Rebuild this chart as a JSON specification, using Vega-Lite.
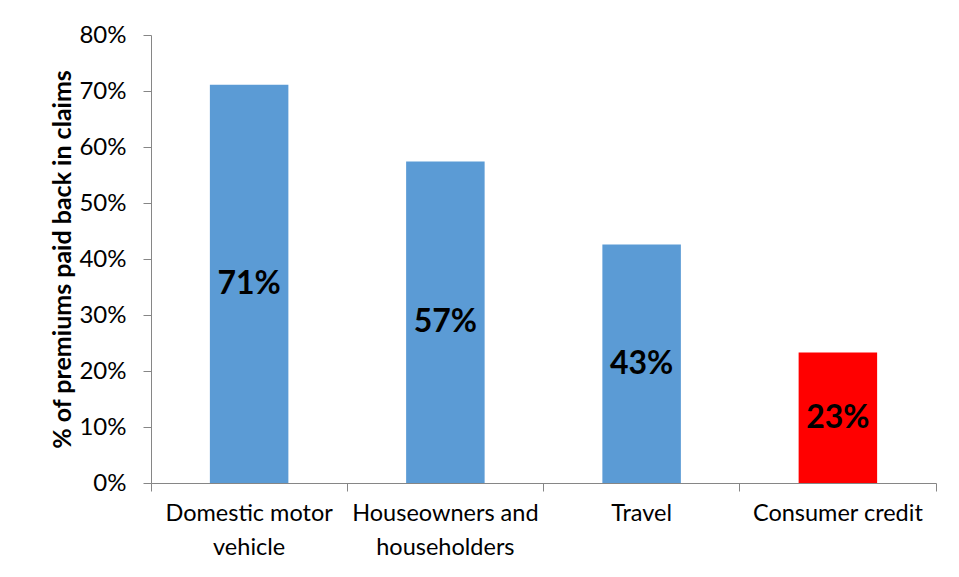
{
  "$schema": "https://vega.github.io/schema/vega-lite/v6.json",
  "width": 785,
  "height": 448,
  "autosize": {"type": "none"},
  "padding": {"left": 151, "top": 35, "right": 23, "bottom": 94},
  "background": "white",
  "config": {
    "font": "Lato",
    "view": {"stroke": null},
    "axis": {
      "domainColor": "#868686",
      "tickColor": "#868686",
      "labelColor": "#000000",
      "titleColor": "#000000",
      "labelFont": "Lato",
      "titleFont": "Lato",
      "grid": false
    }
  },
  "data": {
    "values": [
      {"category": "Domestic motor vehicle", "value": 0.711},
      {"category": "Houseowners and householders", "value": 0.574},
      {"category": "Travel", "value": 0.426},
      {"category": "Consumer credit", "value": 0.233}
    ]
  },
  "layer": [
    {
      "mark": {"type": "bar", "width": {"band": 0.4}},
      "encoding": {
        "x": {
          "field": "category",
          "type": "nominal",
          "sort": null,
          "scale": {"paddingInner": 0, "paddingOuter": 0},
          "axis": {
            "title": null,
            "labelAngle": 0,
            "labelFontSize": 23.5,
            "labelExpr": "datum.label == 'Domestic motor vehicle' ? ['Domestic motor', 'vehicle'] : datum.label == 'Houseowners and householders' ? ['Houseowners and', 'householders'] : datum.label",
            "labelLineHeight": 34,
            "labelPadding": 10,
            "labelBaseline": "top",
            "labelLimit": 400,
            "labelOverlap": false,
            "tickSize": 8,
            "bandPosition": 1,
            "tickExtra": true
          }
        },
        "y": {
          "field": "value",
          "type": "quantitative",
          "scale": {"domain": [0, 0.8], "nice": false},
          "axis": {
            "format": ".0%",
            "values": [0, 0.1, 0.2, 0.3, 0.4, 0.5, 0.6, 0.7, 0.8],
            "title": "% of premiums paid back in claims",
            "titleFontSize": 25,
            "titleFontWeight": "bold",
            "labelFontSize": 24,
            "tickSize": 8,
            "labelPadding": 17,
            "titlePadding": 3
          }
        },
        "color": {
          "field": "category",
          "type": "nominal",
          "scale": {
            "domain": ["Domestic motor vehicle", "Houseowners and householders", "Travel", "Consumer credit"],
            "range": ["#5B9BD5", "#5B9BD5", "#5B9BD5", "#FF0000"]
          },
          "legend": null
        }
      }
    },
    {
      "mark": {"type": "text", "fontSize": 32, "fontWeight": "bold", "color": "#000000", "baseline": "middle"},
      "encoding": {
        "x": {"field": "category", "type": "nominal", "sort": null},
        "y": {"field": "value", "type": "quantitative", "scale": {"domain": [0, 1.6], "nice": false}, "axis": null},
        "text": {"field": "value", "type": "quantitative", "format": ".0%"}
      }
    }
  ],
  "resolve": {"scale": {"y": "independent"}}
}
